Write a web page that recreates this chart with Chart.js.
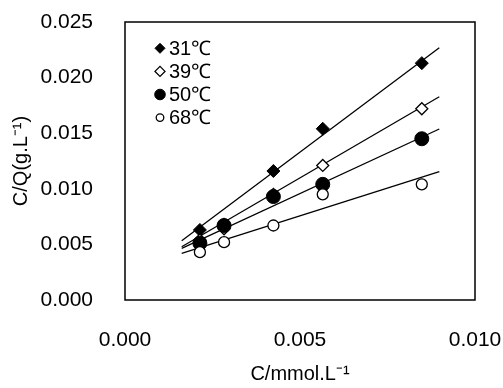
<!DOCTYPE html>
<html>
<head>
<meta charset="utf-8">
<script src="https://cdn.jsdelivr.net/npm/chart.js@4/dist/chart.umd.min.js"></script>
<style>
  html, body { margin: 0; padding: 0; background: #fff; }
  #wrap { width: 503px; height: 388px; }
</style>
</head>
<body>
<div id="wrap"><canvas id="c" width="503" height="388"></canvas></div>
<script>
// Concentration C (mmol/L) of the measured points
const concentration = [0.00214, 0.00283, 0.00424, 0.00565, 0.00848];

// C/Q values per temperature
const series31 = [0.0063, 0.0068, 0.0116, 0.0154, 0.0213];
const series39 = [0.0054, 0.0064, 0.0095, 0.0121, 0.0172];
const series50 = [0.0051, 0.0067, 0.0093, 0.0104, 0.0145];
const series68 = [0.0043, 0.0052, 0.0067, 0.0095, 0.0104];

// Linear fit lines: end points over the fitted range
const fitX = [0.00162, 0.00898];
const fit31 = [0.00533, 0.02269];
const fit39 = [0.00479, 0.01828];
const fit50 = [0.00465, 0.01538];
const fit68 = [0.00420, 0.01154];

const seriesLabels = ['31\u2103', '39\u2103', '50\u2103', '68\u2103'];
const xTicks = [0, 0.005, 0.010];
const yTicks = [0, 0.005, 0.010, 0.015, 0.020, 0.025];

const FONT = "'Liberation Sans', Arial, sans-serif";

const toPoints = (xs, ys) => xs.map((x, i) => ({ x: x, y: ys[i] }));

const markerStyles = [
  { pointStyle: 'rectRot', radius: 6.5, legendRadius: 5,   bg: '#000', border: '#000', bw: 1 },
  { pointStyle: 'rectRot', radius: 6,   legendRadius: 5,   bg: '#fff', border: '#000', bw: 1.3 },
  { pointStyle: 'circle',  radius: 7,   legendRadius: 5.3, bg: '#000', border: '#000', bw: 1 },
  { pointStyle: 'circle',  radius: 5.5, legendRadius: 3.8, bg: '#fff', border: '#000', bw: 1.3 }
];
// lower order is drawn on top
const markerOrder = [3, 2, 1, 0];

const pointSets = [series31, series39, series50, series68];
const fitSets = [fit31, fit39, fit50, fit68];

const datasets = [];
pointSets.forEach((ys, i) => {
  const m = markerStyles[i];
  datasets.push({
    type: 'scatter',
    label: seriesLabels[i],
    data: toPoints(concentration, ys),
    pointStyle: m.pointStyle,
    pointRadius: m.radius,
    pointHoverRadius: m.radius,
    backgroundColor: m.bg,
    borderColor: m.border,
    borderWidth: m.bw,
    showLine: false,
    order: markerOrder[i],
    legendRadius: m.legendRadius,
    isMarker: true
  });
});
fitSets.forEach((ys, i) => {
  datasets.push({
    type: 'line',
    label: 'fit ' + seriesLabels[i],
    data: toPoints(fitX, ys),
    borderColor: '#000',
    borderWidth: 1.3,
    pointRadius: 0,
    fill: false,
    tension: 0,
    order: 10
  });
});

// Frame around the plotting area
const framePlugin = {
  id: 'frame',
  afterDraw(chart) {
    const { ctx, chartArea: a } = chart;
    ctx.save();
    ctx.strokeStyle = '#000';
    ctx.lineWidth = 1.5;
    ctx.strokeRect(a.left, a.top, a.right - a.left, a.bottom - a.top);
    ctx.restore();
  }
};

// Legend listed in the upper-left corner of the plot
const insetLegend = {
  id: 'insetLegend',
  afterDatasetsDraw(chart) {
    const { ctx, chartArea: a } = chart;
    const x0 = a.left + 35;
    const y0 = a.top + 26.3;
    const step = 23.1;
    ctx.save();
    chart.data.datasets.filter(d => d.isMarker).forEach((d, i) => {
      const y = y0 + i * step;
      ctx.fillStyle = d.backgroundColor;
      ctx.strokeStyle = d.borderColor;
      ctx.lineWidth = d.borderWidth;
      Chart.helpers.drawPoint(ctx, { pointStyle: d.pointStyle, radius: d.legendRadius, rotation: 0, borderWidth: d.borderWidth }, x0, y);
      ctx.fillStyle = '#000';
      ctx.font = '20px ' + FONT;
      ctx.textAlign = 'left';
      ctx.textBaseline = 'middle';
      ctx.fillText(d.label, x0 + 9, y + 1);
    });
    ctx.restore();
  }
};

// keep the plotting area fixed: no extra room for overhanging tick labels
const noScalePadding = scale => {
  scale.paddingLeft = 0;
  scale.paddingRight = 0;
  scale.paddingTop = 0;
  scale.paddingBottom = 0;
};

new Chart(document.getElementById('c'), {
  data: { datasets: datasets },
  options: {
    responsive: false,
    animation: false,
    events: [],
    layout: { padding: { top: 22, right: 28, bottom: 0, left: 0 } },
    plugins: { legend: { display: false }, tooltip: { enabled: false } },
    scales: {
      x: {
        type: 'linear',
        min: 0,
        max: 0.010,
        grid: { display: false },
        border: { display: false },
        afterBuildTicks(scale) { scale.ticks = xTicks.map(v => ({ value: v })); },
        afterFit(scale) { scale.height = 88; noScalePadding(scale); },
        ticks: {
          color: '#000',
          padding: 20,
          maxRotation: 0,
          font: { family: FONT, size: 21 },
          callback: v => v.toFixed(3)
        },
        title: {
          display: true,
          text: 'C/mmol.L\u207B\u00B9',
          color: '#000',
          font: { family: FONT, size: 20 },
          padding: { top: 0, bottom: 2 }
        }
      },
      y: {
        type: 'linear',
        min: 0,
        max: 0.025,
        grid: { display: false },
        border: { display: false },
        afterBuildTicks(scale) { scale.ticks = yTicks.map(v => ({ value: v })); },
        afterFit(scale) { scale.width = 125; noScalePadding(scale); },
        ticks: {
          color: '#000',
          padding: 24,
          font: { family: FONT, size: 21 },
          callback: v => v.toFixed(3)
        },
        title: {
          display: true,
          text: 'C/Q(g.L\u207B\u00B9)',
          color: '#000',
          font: { family: FONT, size: 20 },
          padding: { top: 9, bottom: 0 }
        }
      }
    }
  },
  plugins: [framePlugin, insetLegend]
});
</script>
</body>
</html>
